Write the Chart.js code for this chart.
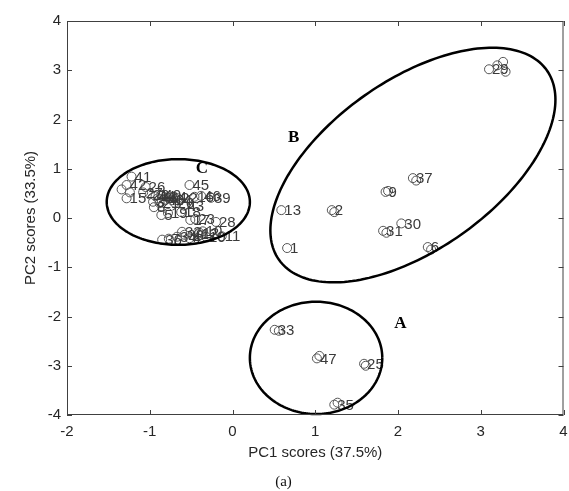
<!DOCTYPE html>
<html>
<head>
<meta charset="utf-8">
<script src="https://cdn.jsdelivr.net/npm/chart.js@4.4.0/dist/chart.umd.min.js"></script>
<style>
  html, body { margin: 0; padding: 0; background: #fff; }
  canvas { display: block; }
</style>
</head>
<body>
<canvas id="pcaChart" width="569" height="491"></canvas>
<script>
// PCA scores ('' = replicate marker without its own number)
const sampleLabels = [
    '33', '', '47', '', '25', '', '35', '',
    '13', '2', '', '1', '9', '', '37', '', '31', '', '30', '6', '', '29', '', '', '',
    '41', '42', '26', '', '15', '', '27', '20', '44', '40', '24', '3', '21', '14', '22',
    '8', '5', '19', '45', '16', '46', '39', '43', '18', '17', '23', '28', '11', '12',
    '10', '32', '4', '36', '7', '34', '38', '44', '40', '20', '12', '10'
];
const pc1Scores = [
    0.51, 0.56, 1.02, 1.05, 1.59, 1.61, 1.23, 1.27,
    0.59, 1.20, 1.23, 0.66, 1.85, 1.88, 2.18, 2.22, 1.82, 1.86, 2.04, 2.36, 2.40, 3.10, 3.20, 3.27, 3.30,
    -1.22, -1.28, -1.05, -1.34, -1.28, -1.24, -1.08, -1.00, -0.93, -0.86, -0.79, -0.96, -0.88, -0.73, -0.66,
    -0.95, -0.86, -0.78, -0.52, -0.46, -0.38, -0.26, -0.58, -0.62, -0.51, -0.45, -0.20, -0.13, -0.40,
    -0.32, -0.61, -0.52, -0.85, -0.77, -0.67, -0.58, -0.90, -0.82, -0.70, -0.42, -0.36
];
const pc2Scores = [
    -2.27, -2.29, -2.85, -2.80, -2.96, -3.00, -3.79, -3.75,
    0.16, 0.16, 0.12, -0.61, 0.53, 0.55, 0.81, 0.76, -0.26, -0.30, -0.11, -0.59, -0.64, 3.02, 3.10, 3.17, 2.97,
    0.84, 0.67, 0.63, 0.58, 0.40, 0.52, 0.52, 0.48, 0.44, 0.47, 0.42, 0.33, 0.30, 0.36, 0.40,
    0.22, 0.06, 0.10, 0.67, 0.43, 0.45, 0.41, 0.25, 0.12, -0.04, -0.02, -0.08, -0.37, -0.30,
    -0.38, -0.28, -0.41, -0.44, -0.42, -0.38, -0.34, 0.40, 0.37, 0.31, -0.33, -0.27
];
const xTicks = [-2, -1, 0, 1, 2, 3, 4];
const yTicks = [-4, -3, -2, -1, 0, 1, 2, 3, 4];

// hand drawn group outlines, in score units: centre, two half-axis vectors, letter spot
const groupEllipses = [
    { name: 'A', cx: 1.01, cy: -2.84, u: [0.80, 0], v: [0, 1.14], lx: 2.03, ly: -2.15 },
    { name: 'B', cx: 2.18, cy: 1.075, u: [1.62, 1.92], v: [-0.585, 1.41], lx: 0.74, ly: 1.64 },
    { name: 'C', cx: -0.655, cy: 0.325, u: [0.865, 0], v: [0, 0.87], lx: -0.37, ly: 1.01 }
];

const points = pc1Scores.map((v, i) => ({ x: v, y: pc2Scores[i] }));

const overlayPlugin = {
    id: 'overlay',
    afterDatasetsDraw(chart) {
        const { ctx, scales: { x, y } } = chart;
        ctx.save();

        // sample numbers
        ctx.font = '15px "Liberation Sans", Arial, sans-serif';
        ctx.fillStyle = '#3a3a3a';
        ctx.textAlign = 'left';
        ctx.textBaseline = 'middle';
        sampleLabels.forEach((lab, i) => {
            if (!lab) return;
            ctx.fillText(lab, x.getPixelForValue(pc1Scores[i]) + 3, y.getPixelForValue(pc2Scores[i]) + 1);
        });

        // group outlines
        ctx.strokeStyle = '#000';
        ctx.lineWidth = 2.5;
        groupEllipses.forEach(e => {
            ctx.beginPath();
            for (let k = 0; k <= 200; k++) {
                const t = k / 200 * 2 * Math.PI;
                const px = x.getPixelForValue(e.cx + e.u[0] * Math.cos(t) + e.v[0] * Math.sin(t));
                const py = y.getPixelForValue(e.cy + e.u[1] * Math.cos(t) + e.v[1] * Math.sin(t));
                if (k === 0) ctx.moveTo(px, py); else ctx.lineTo(px, py);
            }
            ctx.stroke();
        });

        // group letters
        ctx.font = 'bold 17px "Liberation Serif", "Times New Roman", serif';
        ctx.fillStyle = '#000';
        ctx.textAlign = 'center';
        groupEllipses.forEach(e => {
            ctx.fillText(e.name, x.getPixelForValue(e.lx), y.getPixelForValue(e.ly));
        });
        ctx.restore();
    },
    afterDraw(chart) {
        const { ctx, chartArea: a, scales: { x, y } } = chart;
        ctx.save();
        ctx.strokeStyle = '#404040';
        ctx.lineWidth = 1;
        ctx.strokeRect(a.left + 0.5, a.top + 0.5, a.right - a.left - 1, a.bottom - a.top - 1);
        ctx.beginPath();
        xTicks.forEach(v => {
            const px = Math.round(x.getPixelForValue(v)) + 0.5;
            ctx.moveTo(px, a.bottom); ctx.lineTo(px, a.bottom - 5);
            ctx.moveTo(px, a.top); ctx.lineTo(px, a.top + 5);
        });
        yTicks.forEach(v => {
            const py = Math.round(y.getPixelForValue(v)) + 0.5;
            ctx.moveTo(a.left, py); ctx.lineTo(a.left + 5, py);
            ctx.moveTo(a.right, py); ctx.lineTo(a.right - 5, py);
        });
        ctx.stroke();
        ctx.restore();
    }
};

const tickFont = { family: '"Liberation Sans", Arial, sans-serif', size: 15 };

new Chart(document.getElementById('pcaChart'), {
    type: 'scatter',
    data: {
        datasets: [{
            data: points,
            pointStyle: 'circle',
            pointRadius: 4.5,
            pointBorderWidth: 1,
            pointBorderColor: '#555',
            pointBackgroundColor: 'rgba(0,0,0,0)'
        }]
    },
    options: {
        responsive: false,
        animation: false,
        devicePixelRatio: 1,
        layout: { padding: { top: 21, right: 2, left: 0, bottom: 0 } },
        plugins: {
            legend: { display: false },
            tooltip: { enabled: false },
            title: {
                display: true,
                position: 'bottom',
                text: '(a)',
                color: '#111',
                font: { family: '"Liberation Serif", "Times New Roman", serif', size: 15, weight: 'normal' },
                padding: { top: 7, bottom: 0 }
            }
        },
        scales: {
            x: {
                type: 'linear',
                min: -2,
                max: 4,
                afterBuildTicks: s => { s.ticks = xTicks.map(v => ({ value: v })); },
                afterFit: s => { s.height = 51; s.paddingLeft = 0; s.paddingRight = 0; },
                grid: { display: false, drawTicks: false },
                border: { display: false },
                ticks: { font: tickFont, color: '#262626', padding: 8, maxRotation: 0 },
                title: {
                    display: true,
                    text: 'PC1 scores (37.5%)',
                    color: '#262626',
                    font: tickFont,
                    padding: { top: 0, bottom: 4 }
                }
            },
            y: {
                type: 'linear',
                min: -4,
                max: 4,
                afterBuildTicks: s => { s.ticks = yTicks.map(v => ({ value: v })); },
                afterFit: s => { s.width = 67; s.paddingTop = 0; s.paddingBottom = 0; },
                grid: { display: false, drawTicks: false },
                border: { display: false },
                ticks: { font: tickFont, color: '#262626', padding: 6 },
                title: {
                    display: true,
                    text: 'PC2 scores (33.5%)',
                    color: '#262626',
                    font: tickFont,
                    padding: { top: 22, bottom: 0 }
                }
            }
        }
    },
    plugins: [overlayPlugin]
});
</script>
</body>
</html>
